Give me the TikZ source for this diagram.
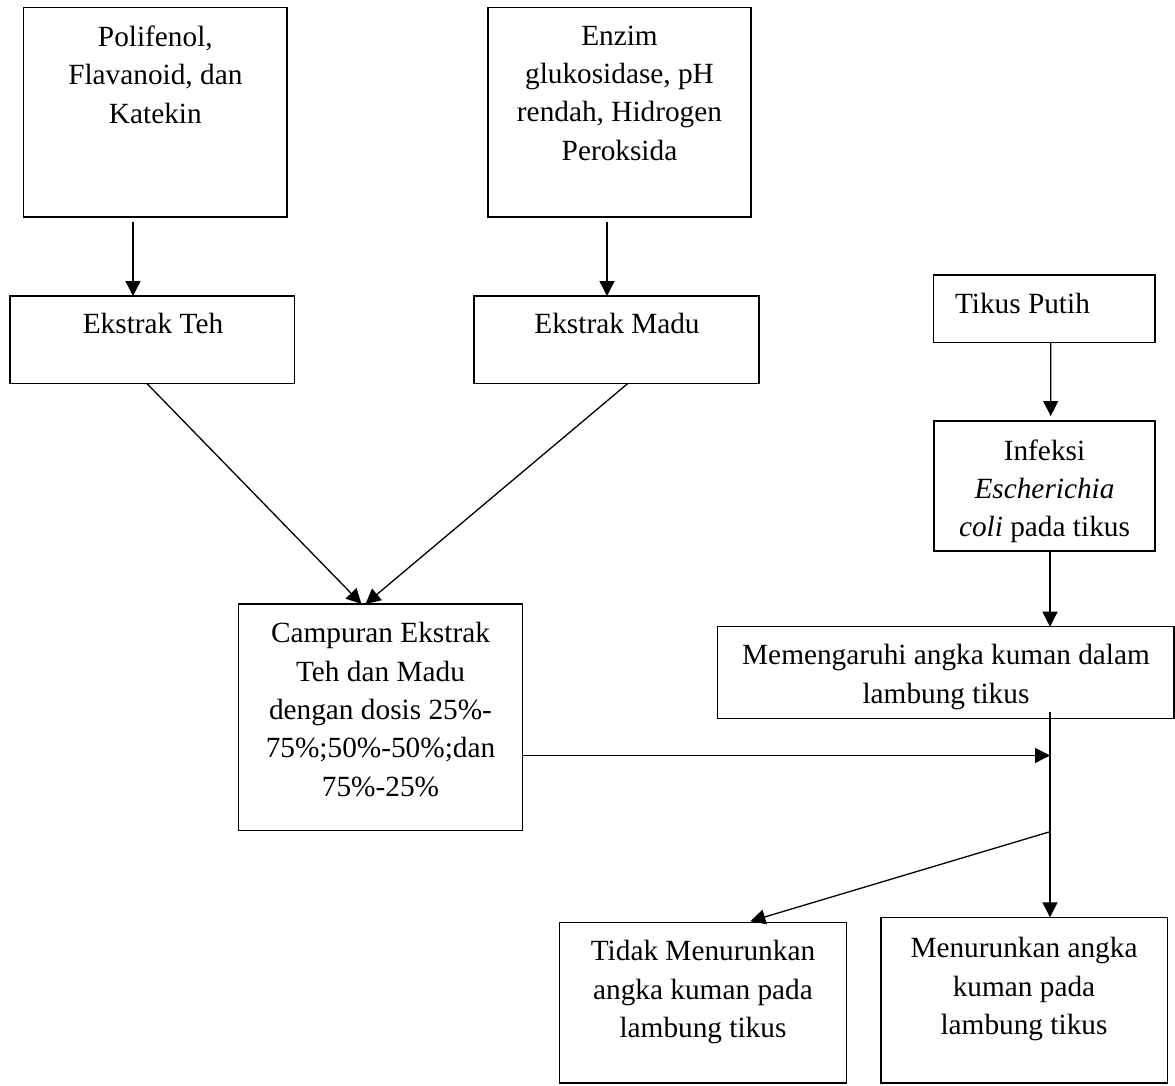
\documentclass[tikz,border=0pt]{standalone}
\usepackage{fontspec}
\setmainfont{Liberation Serif}
\usetikzlibrary{arrows.meta,calc}
\begin{document}
\begin{tikzpicture}[x=1pt,y=-1pt,
  box/.style={draw,line width=1.3pt,rectangle,inner sep=0pt,outer sep=0pt},
  txt/.style={inner sep=0pt,outer sep=0pt,align=center,anchor=north,font=\fontsize{29.3}{38.3}\selectfont},
  arr/.style={line width=1.3pt,-{Triangle[width=15pt,length=15pt]}},
  ln/.style={line width=1.3pt}]
\useasboundingbox (0,0) rectangle (1175,1086);
% boxes
\node[box,minimum width=263.3pt,minimum height=209.7pt] (pol) at (155.35,112.15) {};
\node[box,minimum width=263pt,minimum height=209.7pt] (enz) at (619.5,112.15) {};
\node[box,minimum width=284.5pt,minimum height=87.3pt] (teh) at (152.25,339.65) {};
\node[box,minimum width=285pt,minimum height=87.3pt] (madu) at (616.5,339.65) {};
\node[box,minimum width=221.3pt,minimum height=67.7pt] (tikus) at (1044.35,308.85) {};
\node[box,minimum width=221pt,minimum height=130pt] (inf) at (1044.5,486) {};
\node[box,minimum width=456.3pt,minimum height=92pt] (mem) at (945.85,672.7) {};
\node[box,minimum width=284.4pt,minimum height=226.7pt] (camp) at (380.5,717.35) {};
\node[box,minimum width=287.1pt,minimum height=160.3pt] (tidak) at (703.05,1002.85) {};
\node[box,minimum width=286.4pt,minimum height=165.7pt] (turun) at (1024.2,1000.15) {};
% texts
\node[txt] (tpol) at (155.35,26) {Polifenol,\\Flavanoid, dan\\Katekin};
\node[txt] (tenz) at (619.5,26) {Enzim\\glukosidase, pH\\rendah, Hidrogen\\Peroksida};
\node[txt] (tteh) at (153,313) {Ekstrak Teh};
\node[txt] (tmadu) at (617,313) {Ekstrak Madu};
\node[txt,anchor=north west,align=left] (ttikus) at (955,293) {Tikus Putih};
\node[txt] (tinf) at (1044.5,439.5) {Infeksi\\\textit{Escherichia}\\\textit{coli} pada tikus};
\node[txt] (tmem) at (946,644.5) {Memengaruhi angka kuman dalam\\lambung tikus};
\node[txt] (tcamp) at (380.5,622.5) {Campuran Ekstrak\\Teh dan Madu\\dengan dosis 25\%-\\75\%;50\%-50\%;dan\\75\%-25\%};
\node[txt] (ttidak) at (703,940.5) {Tidak Menurunkan\\angka kuman pada\\lambung tikus};
\node[txt] (tturun) at (1024,937.5) {Menurunkan angka\\kuman pada\\lambung tikus};
% junctions
\coordinate (j1) at (1050,755.5);
\coordinate (j2) at (1050,831.7);
% connectors
\draw[arr,shorten <=5pt] ([xshift=-22.35pt]pol.south) -- ([xshift=-19.25pt]teh.north);
\draw[arr,shorten <=5pt] ([xshift=-12.5pt]enz.south) -- ([xshift=-9.5pt]madu.north);
\draw[arr] ([xshift=-5.55pt]teh.south) -- ([xshift=-19pt]camp.north);
\draw[arr] ([xshift=11.5pt]madu.south) -- ([xshift=-15pt]camp.north);
\draw[arr,shorten >=5pt] ([xshift=6.35pt]tikus.south) -- ([xshift=6.2pt]inf.north);
\draw[arr] ([xshift=5.5pt]inf.south) -- ([xshift=104.15pt]mem.north);
\draw[arr] (camp.east |- j1) -- (j1);
\draw[arr] ([xshift=104.15pt,yshift=7pt]mem.south) -- ([xshift=25.8pt]turun.north);
\draw[arr,shorten >=5pt] (j2) -- ([xshift=42.5pt]tidak.north);
\end{tikzpicture}
\end{document}
